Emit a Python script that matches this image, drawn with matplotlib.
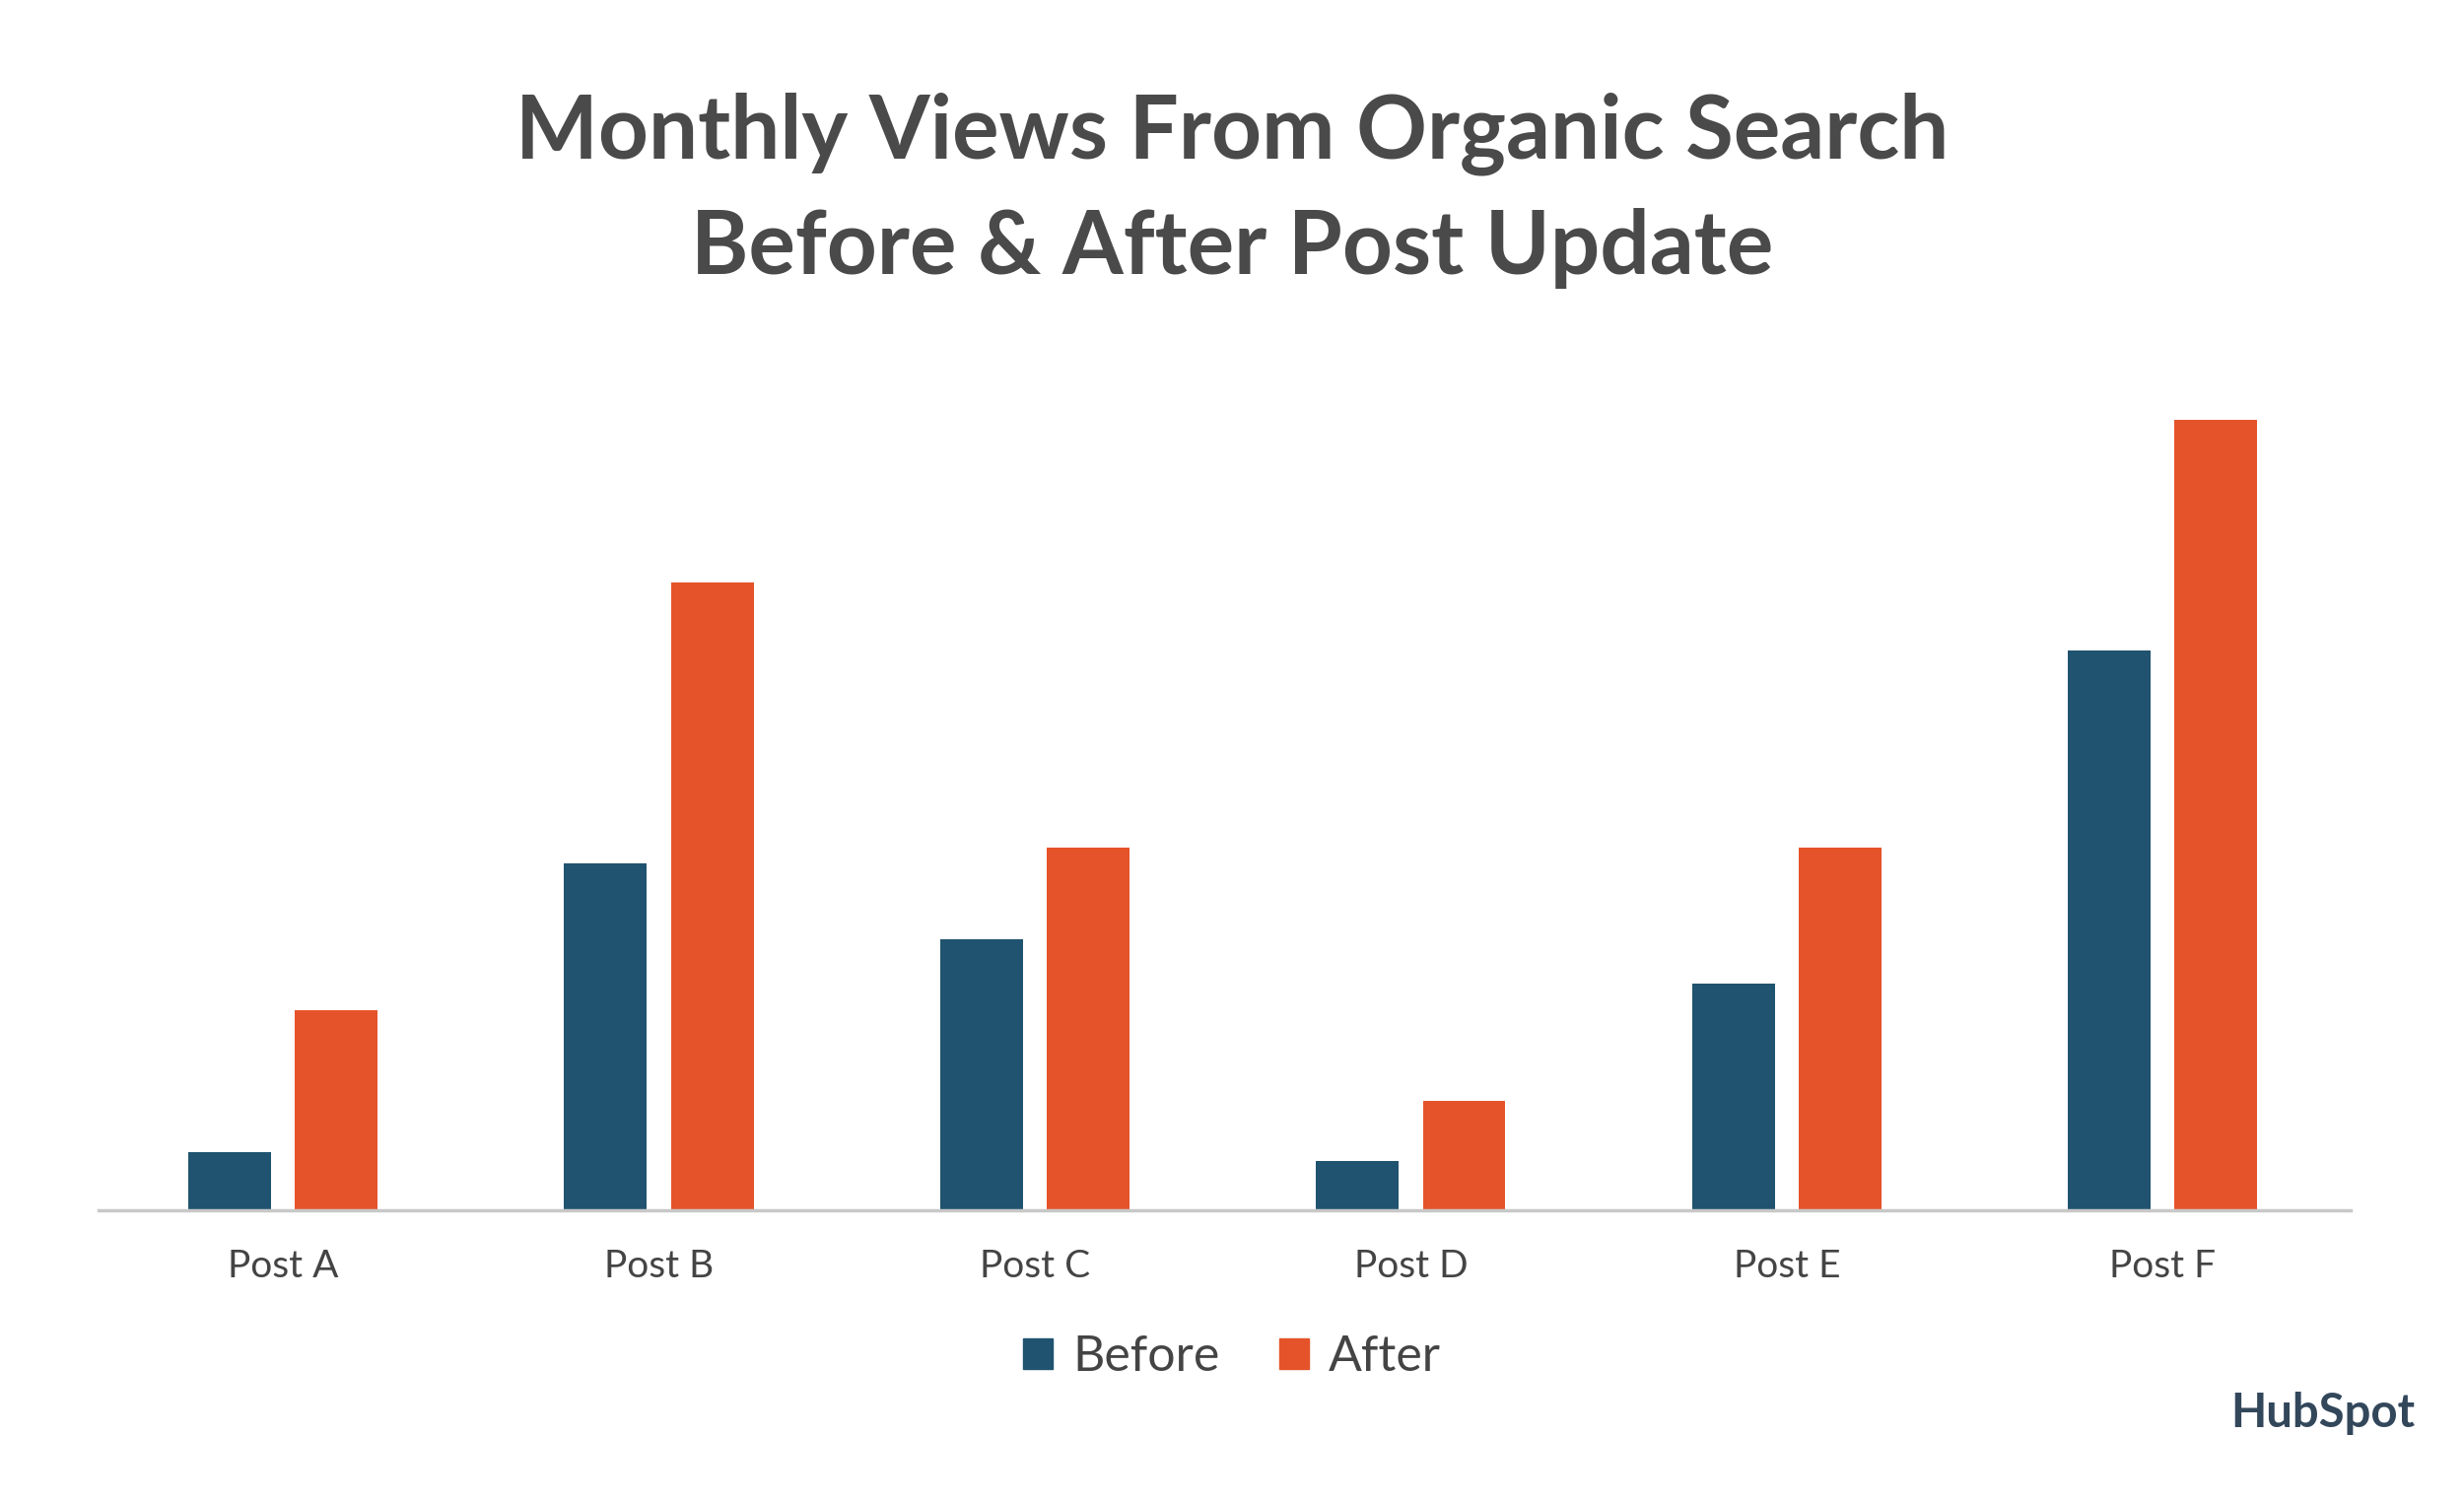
import matplotlib
matplotlib.use("Agg")
import matplotlib.pyplot as plt
import numpy as np
from matplotlib.patches import Patch

categories = ["Post A", "Post B", "Post C", "Post D", "Post E", "Post F"]
before = [37, 222, 173, 31, 145, 358]
after = [128, 402, 232, 70, 232, 506]
series_names = ["Before", "After"]
colors = ["#20536f", "#e5532a"]

plt.rcParams['font.family'] = ['Lato', 'DejaVu Sans']
fig = plt.figure(figsize=(25, 15.25), dpi=100)
ax = fig.add_axes([0.04, 0.195, 0.914, 0.53])
x = np.arange(len(categories))
w = 0.22
ax.bar(x - 0.142, before, w, color=colors[0])
ax.bar(x + 0.142, after, w, color=colors[1])
ax.set_xlim(-0.49, 5.5)
ax.set_ylim(0, 510)
for s in ["top", "right", "left"]:
    ax.spines[s].set_visible(False)
ax.spines["bottom"].set_color("#c8c8c8")
ax.spines["bottom"].set_linewidth(2.5)
ax.set_yticks([])
ax.set_xticks(x)
ax.set_xticklabels(categories, fontsize=28, color="#444444")
ax.tick_params(axis="x", length=0, pad=28)

fig.text(0.5, 0.911, "Monthly Views From Organic Search", ha="center", va="center",
         fontsize=64, fontweight="bold", color="#4a4a4a")
fig.text(0.5, 0.835, "Before & After Post Update", ha="center", va="center",
         fontsize=64, fontweight="bold", color="#4a4a4a")

handles = [Patch(color=c, label=n) for c, n in zip(colors, series_names)]
fig.legend(handles=handles, loc="center", bbox_to_anchor=(0.5, 0.097), ncol=2,
           frameon=False, fontsize=36, handlelength=0.6, handleheight=0.6,
           handletextpad=0.4, columnspacing=1.2, labelcolor="#444444")

fig.text(0.98, 0.06, "HubSpot", ha="right", va="center", fontsize=34,
         fontweight="bold", color="#33475b")
fig.savefig("out.png", dpi=100, facecolor="white")
